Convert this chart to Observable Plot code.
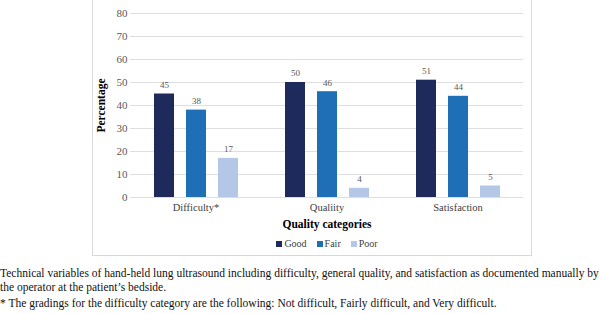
<!DOCTYPE html>
<html>
<head>
<meta charset="utf-8">
<script src="https://cdn.jsdelivr.net/npm/d3@7"></script>
<script src="https://cdn.jsdelivr.net/npm/@observablehq/plot@0.6"></script>
<style>
  html, body { margin: 0; padding: 0; background: #fff; }
  #wrap { position: relative; width: 600px; height: 314px; overflow: hidden; font-family: "Liberation Serif", "Times New Roman", serif; }
  #box { position: absolute; left: 92px; top: -1px; width: 438px; height: 255px; border: 1px solid #d9d9d9; }
  #chart { position: absolute; left: 0; top: 0; }
  #chart svg [aria-label="y-axis label"] text, #chart svg [aria-label="fx-axis label"] text { font-weight: bold; fill: #000; }
  #legend { position: absolute; top: 238px; left: 0; width: 654px; display: flex; justify-content: center; font-size: 10px; color: #404040; }
  .item { display: flex; align-items: center; margin: 0 5px; }
  .sw { width: 6px; height: 6px; margin-right: 2px; }
  #caption { position: absolute; left: 0; top: 266px; width: 602px; font-size: 11.5px; line-height: 14px; color: #111; }
  #caption p { margin: 0; }
  #caption p + p { margin-top: 2px; }
</style>
</head>
<body>
<div id="wrap">
  <div id="box"></div>
  <div id="chart"></div>
  <div id="legend"></div>
  <div id="caption">
    <p>Technical variables of hand-held lung ultrasound including difficulty, general quality, and satisfaction as documented manually by the operator at the patient’s bedside.</p>
    <p>* The gradings for the difficulty category are the following: Not difficult, Fairly difficult, and Very difficult.</p>
  </div>
</div>
<script>
const categories = ["Difficulty*", "Qualiity", "Satisfaction"];
const grades = ["Good", "Fair", "Poor"];
const goodValues = [45, 50, 51];
const fairValues = [38, 46, 44];
const poorValues = [17, 4, 5];
const colors = ["#1f2a5c", "#1e6fb6", "#b4c7e7"];
const yTicks = [0, 10, 20, 30, 40, 50, 60, 70, 80];

const series = [goodValues, fairValues, poorValues];
const data = [];
categories.forEach((c, i) => grades.forEach((g, j) => data.push({category: c, grade: g, value: series[j][i]})));

const chart = Plot.plot({
  width: 600,
  height: 232,
  marginLeft: 129,
  marginRight: 77,
  marginTop: 13,
  marginBottom: 35,
  style: {fontFamily: "'Liberation Serif', 'Times New Roman', serif", fontSize: "11px", color: "#595959", background: "transparent"},
  fx: {domain: categories, padding: 0, label: "Quality categories", labelAnchor: "center", labelOffset: 30, tickSize: 0, tickPadding: 6, labelArrow: false},
  x: {domain: grades, paddingInner: 0.38, paddingOuter: 0.7, axis: null},
  y: {domain: [0, 80], ticks: yTicks, tickSize: 0, tickPadding: 3, label: "Percentage", labelAnchor: "center", labelOffset: 34, labelArrow: false},
  color: {domain: grades, range: colors},
  marks: [
    Plot.ruleY(yTicks, {stroke: "#dedede", strokeWidth: 1}),
    Plot.barY(data, {fx: "category", x: "grade", y: "value", fill: "grade"}),
    Plot.text(data, {fx: "category", x: "grade", y: "value", text: d => String(d.value), dy: -9, fontSize: 9, fill: "#595959"})
  ]
});
chart.querySelectorAll('[aria-label="fx-axis tick label"] text').forEach(t => { t.style.fontSize = "10.5px"; t.setAttribute("fill", "#404040"); });
chart.querySelectorAll('[aria-label="fx-axis label"] text, [aria-label="y-axis label"] text').forEach(t => { t.style.fontSize = "11.5px"; });
document.getElementById("chart").appendChild(chart);

const legend = document.getElementById("legend");
grades.forEach((g, i) => {
  const item = document.createElement("div");
  item.className = "item";
  const sw = document.createElement("span");
  sw.className = "sw";
  sw.style.background = colors[i];
  const lab = document.createElement("span");
  lab.textContent = g;
  item.appendChild(sw); item.appendChild(lab);
  legend.appendChild(item);
});
</script>
</body>
</html>
